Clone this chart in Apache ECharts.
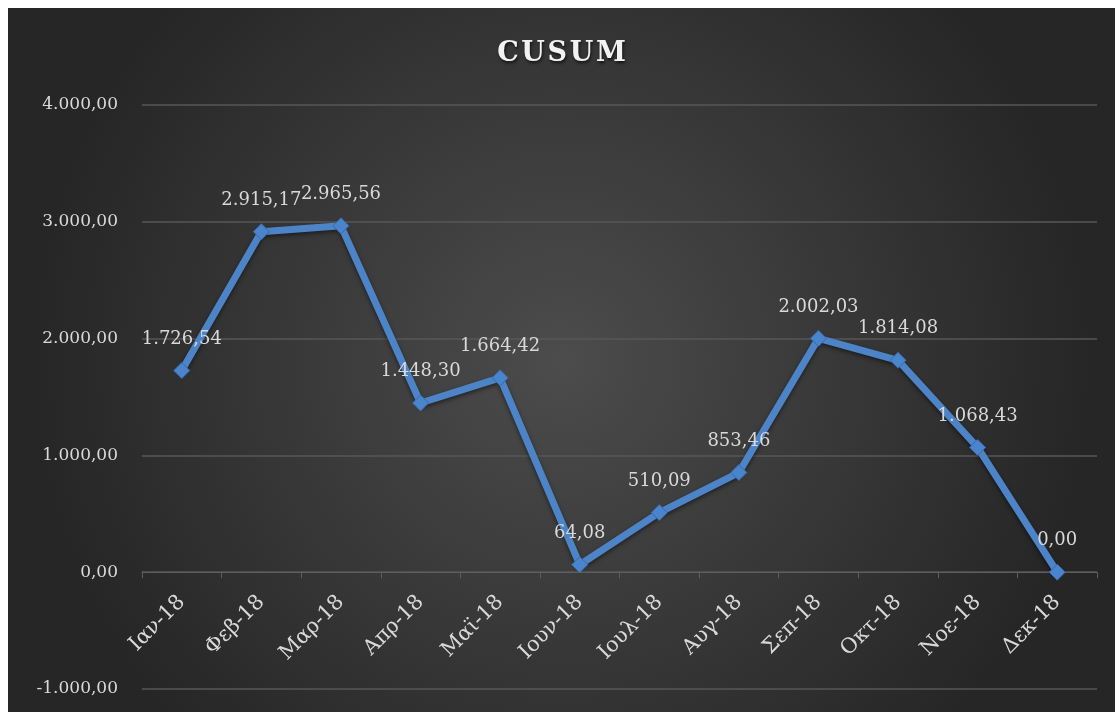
<!DOCTYPE html>
<html>
<head>
<meta charset="utf-8">
<script src="https://cdn.jsdelivr.net/npm/echarts@6/dist/echarts.min.js"></script>
<style>
  html, body { margin: 0; padding: 0; background: #fff; }
  #chart { position: absolute; left: 8px; top: 8px; width: 1107px; height: 704px; }
</style>
</head>
<body>
<div id="chart"></div>
<script>
// μήνες και τιμές CUSUM
let months = ['Ιαν-18', 'Φεβ-18', 'Μαρ-18', 'Απρ-18', 'Μαϊ-18', 'Ιουν-18',
  'Ιουλ-18', 'Αυγ-18', 'Σεπ-18', 'Οκτ-18', 'Νοε-18', 'Δεκ-18'];
let cusum = [1726.54, 2915.17, 2965.56, 1448.30, 1664.42, 64.08,
  510.09, 853.46, 2002.03, 1814.08, 1068.43, 0.00];
let yTicks = [-1000, 0, 1000, 2000, 3000, 4000];

let serif = '"DejaVu Serif", "Liberation Serif", serif';

function grNum(v) {
  let neg = v < 0;
  let s = Math.abs(v).toFixed(2).split('.');
  let int = s[0].replace(/\B(?=(\d{3})+(?!\d))/g, '.');
  return (neg ? '-' : '') + int + ',' + s[1];
}

let chart = echarts.init(document.getElementById('chart'));

let option = {
  backgroundColor: {
    type: 'radial', x: 0.5, y: 0.5, r: 0.75,
    colorStops: [
      { offset: 0, color: '#4c4c4c' },
      { offset: 1, color: '#262626' }
    ]
  },
  title: {
    // hair spaces για το αραιό γράμμα του τίτλου
    text: 'C\u200aU\u200aS\u200aU\u200aM',
    left: 'center',
    top: 27,
    textStyle: {
      fontFamily: serif,
      fontSize: 27,
      fontWeight: 'bold',
      color: '#f2f2f2',
      textShadowColor: 'rgba(0,0,0,0.7)',
      textShadowBlur: 3,
      textShadowOffsetX: 1,
      textShadowOffsetY: 2
    }
  },
  grid: { left: 134, right: 18, top: 97, bottom: 23, containLabel: false, outerBoundsMode: 'none' },
  xAxis: {
    type: 'category',
    data: months,
    boundaryGap: true,
    axisLine: { onZero: true, lineStyle: { color: '#5e5e5e', width: 1 } },
    axisTick: { show: true, length: 6, lineStyle: { color: '#5e5e5e' } },
    axisLabel: {
      rotate: 45,
      // οι ετικέτες μένουν κάτω από τη γραμμή του μηδενός
      margin: -90,
      color: '#d9d9d9',
      fontFamily: serif,
      fontSize: 21
    }
  },
  yAxis: {
    type: 'value',
    min: yTicks[0],
    max: yTicks[yTicks.length - 1],
    interval: 1000,
    axisLine: { show: false },
    axisTick: { show: false },
    splitLine: { lineStyle: { color: '#575757', width: 1.5 } },
    axisLabel: {
      color: '#d9d9d9',
      fontFamily: serif,
      fontSize: 17,
      margin: 24,
      formatter: grNum
    }
  },
  series: [{
    type: 'line',
    data: cusum,
    symbol: 'diamond',
    symbolSize: 16,
    lineStyle: {
      color: '#4d84c8', width: 7,
      shadowColor: 'rgba(0,0,0,0.5)', shadowBlur: 4, shadowOffsetY: 2
    },
    itemStyle: { color: '#4a84cc', borderColor: '#3a6aa8', borderWidth: 1 },
    label: {
      show: true,
      position: 'top',
      distance: 14,
      color: '#d9d9d9',
      fontFamily: serif,
      fontSize: 18,
      formatter: function (p) { return grNum(p.value); }
    },
    animation: false
  }]
};

chart.setOption(option);
</script>
</body>
</html>
